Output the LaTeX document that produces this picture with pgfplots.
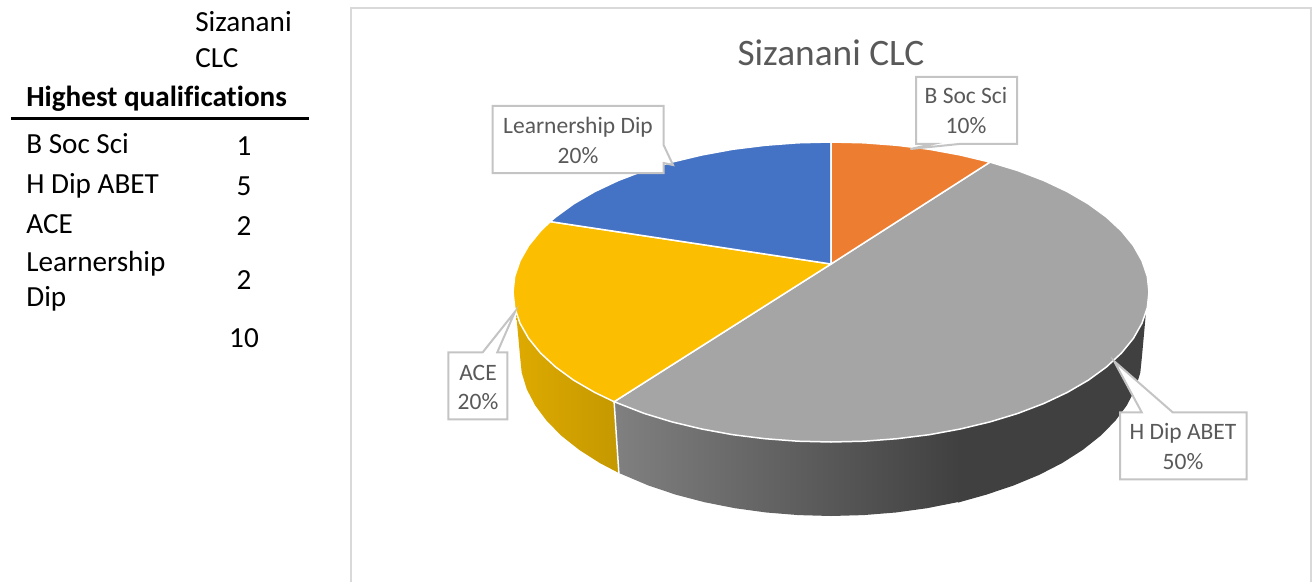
\documentclass[border=0pt]{standalone}
\usepackage{pgfplots}
\pgfplotsset{compat=1.18}
\usepackage{fontspec}
\setmainfont[Ligatures=NoCommon]{Carlito}
\definecolor{lbl}{HTML}{595959}
\definecolor{frm}{HTML}{D9D9D9}
\definecolor{co}{HTML}{C4C4C4}
\newcommand{\tb}[3]{\node[anchor=base west,inner sep=0pt,font=\fontsize{17.5}{20}\selectfont] at (axis cs:#1,#2) {#3};}
\newcommand{\tc}[3]{\node[anchor=base,inner sep=0pt,font=\fontsize{17.5}{20}\selectfont] at (axis cs:#1,#2) {#3};}
\newcommand{\lb}[3]{\node[anchor=base,inner sep=0pt,text=lbl,font=\fontsize{14.1}{16}\selectfont] at (axis cs:#1,#2) {#3};}
\begin{document}
\begin{tikzpicture}
\path[use as bounding box] (0,0) rectangle (787.2pt,348.6pt);
\begin{axis}[
  at={(0,0)}, anchor=south west,
  scale only axis, width=787.2pt, height=348.6pt,
  xmin=0, xmax=1312, ymin=0, ymax=581, y dir=reverse,
  hide axis, no markers, clip=true]
% frame
\addplot[draw=frm, line width=1.2pt] coordinates {(351,590)(351,8)(1311,8)(1311,590)};
% yellow side
\addplot[draw=none, shading=axis, left color={rgb,255:red,222;green,170;blue,0}, right color={rgb,255:red,196;green,152;blue,0}] coordinates {
(516.1,312.9)(520,323.2)(528.6,338.4)(540.5,353)(555.6,367)(573.7,380.2)(594.7,392.4)(614.1,401.7)
(618.9,473)(599.9,463.1)(579.4,450)(561.7,436)(546.9,421.1)(535.2,405.4)(526.8,389.3)(521.7,372.7)(520,356)} -- cycle;
% dark flat part of the grey side
\addplot[draw=none, fill={rgb,255:red,64;green,64;blue,64}] coordinates {
(958,429)(960.3,429)(990,421.9)(1017.9,413.4)(1043.8,403.5)(1067.3,392.4)(1088.3,380.2)(1106.4,367)(1121.5,353)(1133.4,338.4)(1142,323.2)(1145.9,312.9)
(1142,356)(1140.3,372.7)(1135.2,389.3)(1126.8,405.4)(1115.1,421.1)(1100.3,436)(1082.6,450)(1062.1,463.1)(1039.1,474.9)(1013.8,485.4)(986.5,494.6)(958,502.6)} -- cycle;
% shaded part of the grey side
\addplot[draw=none, shading=axis, left color={rgb,255:red,128;green,128;blue,128}, right color={rgb,255:red,64;green,64;blue,64}] coordinates {
(614.1,401.7)(644.1,413.4)(672,421.9)(701.7,429)(732.7,434.7)(764.9,438.7)(797.8,441.2)(831,442)(864.2,441.2)(897.1,438.7)(929.3,434.7)(960.3,429)
(960.3,501.6)(927.1,508.2)(895.7,512.5)(863.5,515.1)(831,516)(798.5,515.1)(766.3,512.5)(734.9,508.2)(704.5,502.2)(675.5,494.6)(648.2,485.4)(618.9,473)} -- cycle;
% seam between the sides
\addplot[draw=white, line width=0.9pt] coordinates {(614.1,401.7)(618.9,473.6)};
% top: grey
\addplot[draw=white, line width=0.9pt, fill={rgb,255:red,165;green,165;blue,165}] coordinates {
(831,264)(990,162.1)(1017.9,170.6)(1043.8,180.5)(1067.3,191.6)(1088.3,203.8)(1106.4,217)(1121.5,231)(1133.4,245.6)(1142,260.8)(1147.3,276.3)(1149,292)
(1147.3,307.7)(1142,323.2)(1133.4,338.4)(1121.5,353)(1106.4,367)(1088.3,380.2)(1067.3,392.4)(1043.8,403.5)(1017.9,413.4)(990,421.9)(960.3,429)(929.3,434.7)(897.1,438.7)(864.2,441.2)(831,442)(797.8,441.2)(764.9,438.7)(732.7,434.7)(701.7,429)(672,421.9)(644.1,413.4)(614.1,401.7)} -- cycle;
% top: yellow
\addplot[draw=white, line width=0.9pt, fill={rgb,255:red,252;green,190;blue,0}] coordinates {
(831,264)(614.1,401.7)(594.7,392.4)(573.7,380.2)(555.6,367)(540.5,353)(528.6,338.4)(520,323.2)(514.7,307.7)(513,292)(514.7,276.3)(520,260.8)(528.6,245.6)(540.5,231)(550.2,221.6)} -- cycle;
% top: blue
\addplot[draw=white, line width=0.9pt, fill={rgb,255:red,68;green,114;blue,196}] coordinates {
(831,264)(550.2,221.6)(555.6,217)(573.7,203.8)(594.7,191.6)(618.2,180.5)(644.1,170.6)(672,162.1)(701.7,155)(732.7,149.3)(764.9,145.3)(797.8,142.8)(831,142)} -- cycle;
% top: orange
\addplot[draw=white, line width=0.9pt, fill={rgb,255:red,237;green,125;blue,49}] coordinates {
(831,264)(831,142)(864.2,142.8)(897.1,145.3)(929.3,149.3)(960.3,155)(990,162.1)} -- cycle;
% callouts
\addplot[draw=co, line width=1.2pt, fill=white] coordinates {(916,77)(1017,77)(1017,144)(959,144)(910.4,149)(933,144)(916,144)} -- cycle;
\addplot[draw=co, line width=1.2pt, fill=white] coordinates {(492.5,106)(663.6,106)(663.6,145)(673,165)(663.6,163)(663.6,173)(492.5,173)} -- cycle;
\addplot[draw=co, line width=1.2pt, fill=white] coordinates {(448.3,352.3)(482.7,352.3)(515,311.7)(497.3,352.3)(507.3,352.3)(507.3,419.3)(448.3,419.3)} -- cycle;
\addplot[draw=co, line width=1.2pt, fill=white] coordinates {(1120,412.3)(1141.7,412.3)(1114,361)(1172.7,412.3)(1246.7,412.3)(1246.7,479.3)(1120,479.3)} -- cycle;
% table rule
\addplot[draw=black, line width=1.9pt] coordinates {(11,118.5)(309,118.5)};
% table text
\tb{195}{32}{Sizanani}
\tb{195}{68}{CLC}
\node[anchor=base west,inner sep=0pt,font=\fontsize{17.5}{20}\selectfont\bfseries] at (axis cs:26,107) {Highest qualifications};
\tb{26}{153.5}{B Soc Sci}
\tb{26}{193}{H Dip ABET}
\tb{26}{233}{ACE}
\tb{26}{271}{Learnership}
\tb{26}{306}{Dip}
\tc{244}{155}{1}
\tc{244}{195}{5}
\tc{244}{235}{2}
\tc{244}{289}{2}
\tc{244}{347}{10}
% chart text
\node[anchor=base,inner sep=0pt,text=lbl,font=\fontsize{22.4}{26}\selectfont] at (axis cs:831,66) {Sizanani CLC};
\lb{966}{104}{B Soc Sci}
\lb{966}{134}{10\%}
\lb{578}{133}{Learnership Dip}
\lb{578}{163}{20\%}
\lb{478}{380}{ACE}
\lb{478}{409}{20\%}
\lb{1183}{439}{H Dip ABET}
\lb{1183}{469}{50\%}
\end{axis}
\end{tikzpicture}
\end{document}
